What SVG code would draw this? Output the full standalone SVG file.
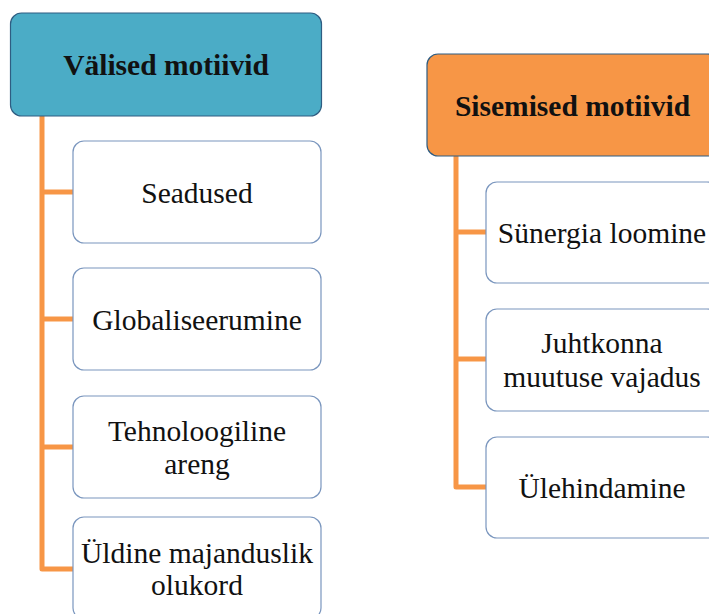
<svg xmlns="http://www.w3.org/2000/svg" width="709" height="614" viewBox="0 0 709 614">
  <style>
    .head { stroke: #2F5D82; stroke-width: 1.2; }
    .item { fill: #FFFFFF; stroke: #7A96BE; stroke-width: 1.2; }
    .link { fill: none; stroke: #F79646; stroke-width: 5; stroke-linejoin: round; }
    .htxt { font-family: "Liberation Serif", "Times New Roman", serif; font-weight: bold; font-size: 29.5px; fill: #111111; text-anchor: middle; }
    .txt { font-family: "Liberation Serif", "Times New Roman", serif; font-size: 29.5px; fill: #111111; text-anchor: middle; }
  </style>
  <rect width="709" height="614" fill="#FFFFFF"/>

  <!-- connectors -->
  <g id="connectors">
    <polyline class="link" points="42,116 42,569 73,569"/>
    <line class="link" x1="42" y1="192" x2="73" y2="192"/>
    <line class="link" x1="42" y1="319" x2="73" y2="319"/>
    <line class="link" x1="42" y1="447" x2="73" y2="447"/>
    <polyline class="link" points="456,156 456,487 486,487"/>
    <line class="link" x1="456" y1="232" x2="486" y2="232"/>
    <line class="link" x1="456" y1="359" x2="486" y2="359"/>
  </g>

  <!-- external motives -->
  <g id="valised">
    <rect class="head" x="10.5" y="13" width="311" height="103" rx="11" fill="#4BACC6"/>
    <text class="htxt" x="166" y="74.5">Välised motiivid</text>
  </g>
  <g id="seadused">
    <rect class="item" x="73" y="141" width="248" height="102" rx="11"/>
    <text class="txt" x="197" y="202.5">Seadused</text>
  </g>
  <g id="globaliseerumine">
    <rect class="item" x="73" y="268" width="248" height="102" rx="11"/>
    <text class="txt" x="197" y="329.5">Globaliseerumine</text>
  </g>
  <g id="tehnoloogiline">
    <rect class="item" x="73" y="396" width="248" height="102" rx="11"/>
    <text class="txt" x="197" y="441">Tehnoloogiline</text>
    <text class="txt" x="197" y="473.5">areng</text>
  </g>
  <g id="uldine">
    <rect class="item" x="73" y="517" width="248" height="102" rx="11"/>
    <text class="txt" x="197" y="562.5">Üldine majanduslik</text>
    <text class="txt" x="197" y="594.5">olukord</text>
  </g>

  <!-- internal motives -->
  <g id="sisemised">
    <rect class="head" x="427" y="54" width="291" height="102" rx="11" fill="#F79646"/>
    <text class="htxt" x="572.5" y="115.5">Sisemised motiivid</text>
  </g>
  <g id="synergia">
    <rect class="item" x="486" y="182" width="232" height="101" rx="11"/>
    <text class="txt" x="602" y="242.5">Sünergia loomine</text>
  </g>
  <g id="juhtkonna">
    <rect class="item" x="486" y="309" width="232" height="102" rx="11"/>
    <text class="txt" x="602" y="353">Juhtkonna</text>
    <text class="txt" x="602" y="386.5">muutuse vajadus</text>
  </g>
  <g id="ulehindamine">
    <rect class="item" x="486" y="437" width="232" height="101" rx="11"/>
    <text class="txt" x="602" y="497.5">Ülehindamine</text>
  </g>
</svg>
